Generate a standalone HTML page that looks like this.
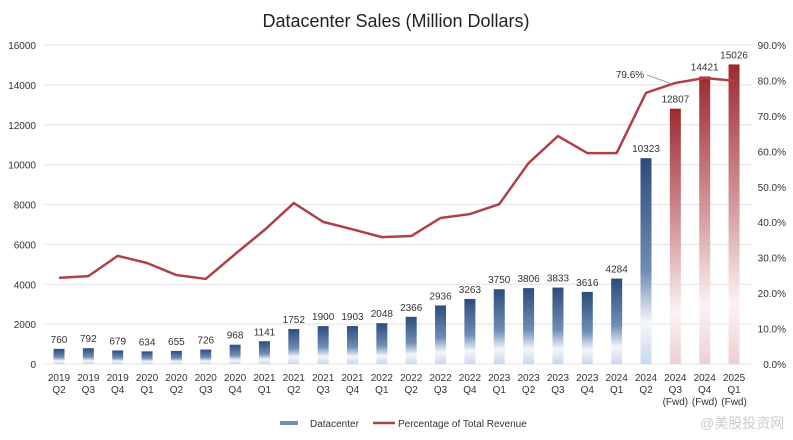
<!DOCTYPE html>
<html><head><meta charset="utf-8"><style>
body{margin:0;background:#fff;}
svg{display:block;font-family:"Liberation Sans","Noto Sans CJK SC",sans-serif;}
</style></head><body>
<svg id="chart" width="793" height="440" viewBox="0 0 793 440">
<defs>
<linearGradient id="gb" x1="0" y1="0" x2="0" y2="1">
<stop offset="0" stop-color="#2c4c7c"/><stop offset="0.55" stop-color="#6f8db5"/><stop offset="0.8" stop-color="#f4f6fa"/><stop offset="1" stop-color="#c9d8ec"/></linearGradient>
<linearGradient id="gr" x1="0" y1="0" x2="0" y2="1">
<stop offset="0" stop-color="#9c2a30"/><stop offset="0.5" stop-color="#d8a0a4"/><stop offset="0.8" stop-color="#fbf3f3"/><stop offset="1" stop-color="#ecd0d2"/></linearGradient>
</defs>
<text x="396" y="27" text-anchor="middle" font-size="18" fill="#222">Datacenter Sales (Million Dollars)</text>
<g id="grid"></g><g id="bars"></g><g id="line"></g><g id="labels"></g>
<g>
<text x="630" y="78" text-anchor="middle" font-size="10" fill="#333">79.6%</text>
<line x1="647" y1="75" x2="672" y2="84" stroke="#888" stroke-width="0.8"/>
</g>
<g>
<rect x="280" y="421" width="18" height="4" fill="#6f8db5"/>
<text x="310" y="427" font-size="10" fill="#333">Datacenter</text>
<line x1="373" y1="423" x2="395" y2="423" stroke="#b04048" stroke-width="2.5"/>
<text x="398" y="427" font-size="10" fill="#333">Percentage of Total Revenue</text>
</g>
<text x="700" y="428" font-size="14" fill="#ccc">@美股投资网</text>
</svg>
<script>
const categories=["2019|Q2","2019|Q3","2019|Q4","2020|Q1","2020|Q2","2020|Q3","2020|Q4","2021|Q1","2021|Q2","2021|Q3","2021|Q4","2022|Q1","2022|Q2","2022|Q3","2022|Q4","2023|Q1","2023|Q2","2023|Q3","2023|Q4","2024|Q1","2024|Q2","2024|Q3|(Fwd)","2024|Q4|(Fwd)","2025|Q1|(Fwd)"];
const sales=[760,792,679,634,655,726,968,1141,1752,1900,1903,2048,2366,2936,3263,3750,3806,3833,3616,4284,10323,12807,14421,15026];
const pct=[24.3,24.8,30.5,28.5,25.1,24.0,31.0,37.8,45.4,40.1,38.0,35.8,36.1,41.2,42.3,45.1,56.7,64.3,59.5,59.5,76.5,79.3,80.7,79.9];
const forecast=[false,false,false,false,false,false,false,false,false,false,false,false,false,false,false,false,false,false,false,false,false,true,true,true];
const leftTicks=[0,2000,4000,6000,8000,10000,12000,14000,16000];
const rightTicks=[0,10,20,30,40,50,60,70,80,90];
const NS="http://www.w3.org/2000/svg";
const top_=45,bot=364,x0=59,step=29.35;
const y=v=>bot-(v/16000)*(bot-top_);
const yp=p=>bot-(p/90)*(bot-top_);
const x=i=>x0+i*step;
function mk(t,a,p){const e=document.createElementNS(NS,t);for(const k in a)e.setAttribute(k,a[k]);p.appendChild(e);return e;}
const G=document.getElementById('grid'),B=document.getElementById('bars'),L=document.getElementById('line'),T=document.getElementById('labels');
leftTicks.forEach(v=>{
 const l=mk('line',{x1:45,x2:752,y1:y(v),y2:y(v),stroke:'#e2e2e2','stroke-width':1},G);
 
 
 const t=mk('text',{x:36,y:y(v)+4,'text-anchor':'end','font-size':10,fill:'#333'},G);t.textContent=v;
 
 
});
rightTicks.forEach(p=>{
 const t=mk('text',{x:786,y:yp(p)+4,'text-anchor':'end','font-size':10,fill:'#333'},G);t.textContent=p.toFixed(1)+'%';
 
 
});
sales.forEach((v,i)=>{
 const r=mk('rect',{x:x(i)-5.5,y:y(v),width:11,height:bot-y(v),fill:forecast[i]?'url(#gr)':'url(#gb)'},B);
 
 
 const t=mk('text',{x:x(i),y:y(v)-6,'text-anchor':'middle','font-size':10,fill:'#333'},T);t.textContent=v;
 
 
 const parts=categories[i].split('|');
 parts.forEach((s,j)=>{
  const c=mk('text',{x:x(i),y:381+j*12,'text-anchor':'middle','font-size':10,fill:'#333'},T);c.textContent=s;
  
  
 });
});
const pl=mk('polyline',{points:pct.map((p,i)=>x(i)+','+yp(p)).join(' '),fill:'none',stroke:'#b04048','stroke-width':2.5,'stroke-linejoin':'round'},L);


</script>
</body></html>
